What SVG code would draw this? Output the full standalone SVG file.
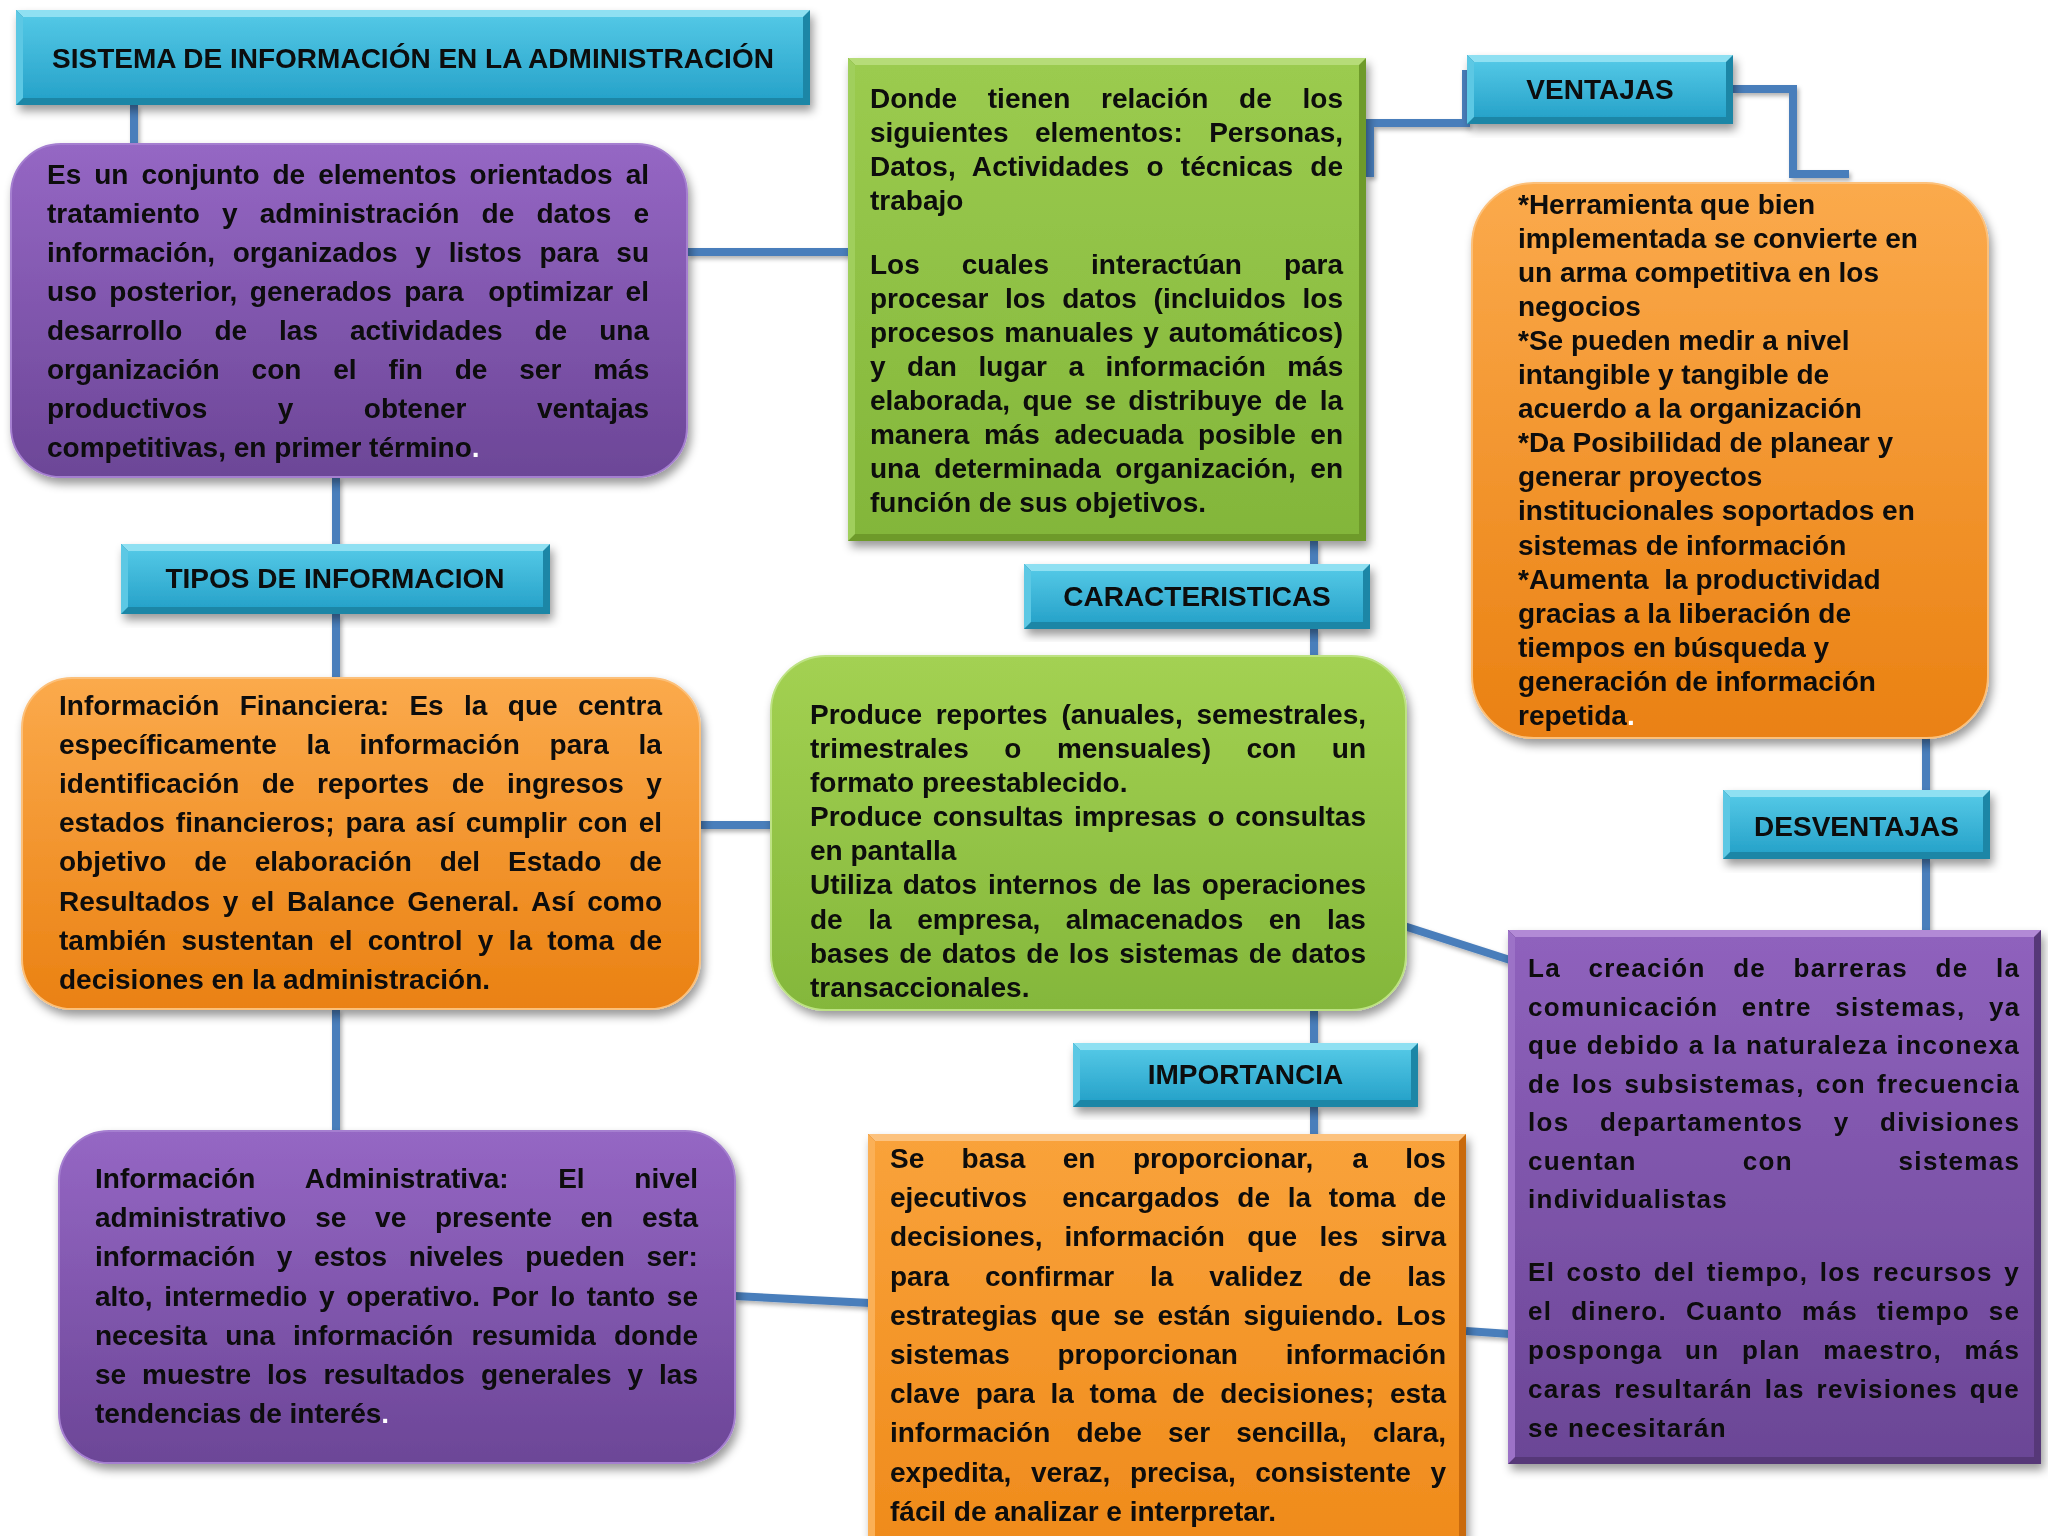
<svg xmlns="http://www.w3.org/2000/svg" width="2048" height="1536" viewBox="0 0 2048 1536">
<defs>
<style>
.t{font-family:"Liberation Sans",Arial,sans-serif;font-weight:bold;font-size:28px;fill:#0a0a0a}
.d{font-family:"Liberation Sans",Arial,sans-serif;font-weight:bold;font-size:26px;letter-spacing:1.3px;fill:#0a0a0a}
.h{font-family:"Liberation Sans",Arial,sans-serif;font-weight:bold;font-size:28px;fill:#0a0a0a;text-anchor:middle}
.w{fill:#ffffff}
.conn{fill:none;stroke:#4a7ebb;stroke-width:8}
</style>
<filter id="sh" x="-10%" y="-10%" width="125%" height="130%">
<feDropShadow dx="3" dy="6" stdDeviation="5" flood-color="#000" flood-opacity="0.4"/>
</filter>
<filter id="shc" x="-10%" y="-10%" width="130%" height="130%">
<feDropShadow dx="2" dy="3" stdDeviation="2" flood-color="#000" flood-opacity="0.3"/>
</filter>
<linearGradient id="gCyan" x1="0" y1="0" x2="0" y2="1"><stop offset="0" stop-color="#52c7e5"/><stop offset="1" stop-color="#27a3ca"/></linearGradient>
<linearGradient id="gPur" x1="0" y1="0" x2="0" y2="1"><stop offset="0" stop-color="#9567c4"/><stop offset="1" stop-color="#6c4697"/></linearGradient>
<linearGradient id="gOr" x1="0" y1="0" x2="0" y2="1"><stop offset="0" stop-color="#fbaa4c"/><stop offset="1" stop-color="#ea8112"/></linearGradient>
<linearGradient id="gGr" x1="0" y1="0" x2="0" y2="1"><stop offset="0" stop-color="#a3d152"/><stop offset="1" stop-color="#84b73b"/></linearGradient>
<linearGradient id="gGr1" x1="0" y1="0" x2="0" y2="1"><stop offset="0" stop-color="#9bcb4f"/><stop offset="1" stop-color="#83b63a"/></linearGradient>
<linearGradient id="gOr3" x1="0" y1="0" x2="0" y2="1"><stop offset="0" stop-color="#f9a23a"/><stop offset="1" stop-color="#ef8a1a"/></linearGradient>
<linearGradient id="gPur3" x1="0" y1="0" x2="0" y2="1"><stop offset="0" stop-color="#8f62bd"/><stop offset="1" stop-color="#6b4696"/></linearGradient>
</defs>
<rect width="2048" height="1536" fill="#ffffff"/>

<g id="connectors" filter="url(#shc)">
<path class="conn" d="M134,105 V146"/>
<path class="conn" d="M687,252 H850"/>
<path class="conn" d="M336,477 V546"/>
<path class="conn" d="M336,614 V680"/>
<path class="conn" d="M700,825 H773"/>
<path class="conn" d="M336,1009 V1133"/>
<path class="conn" d="M735,1296 L870,1303"/>
<path class="conn" d="M1314,541 V566"/>
<path class="conn" d="M1314,629 V658"/>
<path class="conn" d="M1314,1010 V1045"/>
<path class="conn" d="M1314,1107 V1136"/>
<path class="conn" d="M1370,177 V123 H1466 V70"/>
<path class="conn" d="M1733,89 H1793 V174 H1849"/>
<path class="conn" d="M1926,738 V792"/>
<path class="conn" d="M1926,859 V932"/>
<path class="conn" d="M1404,926 L1510,960"/>
<path class="conn" d="M1466,1331 L1510,1334"/>
</g>

<g id="title" filter="url(#sh)">
<rect x="16" y="10" width="794" height="95" fill="#1b86a6"/>
<polygon points="16,10 810,10 803,17 23,17" fill="#8fe0f2"/>
<polygon points="16,10 23,17 23,98 16,105" fill="#5cc8e4"/>
<rect x="23" y="17" width="780" height="81" fill="url(#gCyan)"/>
<text class="h" x="413" y="68">SISTEMA DE INFORMACIÓN EN LA ADMINISTRACIÓN</text>
</g>

<g id="definicion" filter="url(#sh)">
<rect x="11" y="144" width="676" height="333" rx="50" fill="url(#gPur)" stroke="#a57fd0" stroke-width="2"/>
<text class="t" x="47" y="184" word-spacing="5.2" textLength="602" lengthAdjust="spacing">Es un conjunto de elementos orientados al</text>
<text class="t" x="47" y="223" word-spacing="14.3" textLength="602" lengthAdjust="spacing">tratamiento y administración de datos e</text>
<text class="t" x="47" y="262" word-spacing="9.9" textLength="602" lengthAdjust="spacing">información, organizados y listos para su</text>
<text class="t" x="47" y="301" word-spacing="4.6" textLength="602" lengthAdjust="spacing" xml:space="preserve">uso posterior, generados para  optimizar el</text>
<text class="t" y="340"><tspan x="47">desarrollo</tspan><tspan x="214.4">de</tspan><tspan x="279.1">las</tspan><tspan x="350">actividades</tspan><tspan x="534.5">de</tspan><tspan x="599.2">una</tspan></text>
<text class="t" y="379"><tspan x="47">organización</tspan><tspan x="251.6">con</tspan><tspan x="333.3">el</tspan><tspan x="388.6">fin</tspan><tspan x="454.7">de</tspan><tspan x="519.3">ser</tspan><tspan x="593.2">más</tspan></text>
<text class="t" y="418"><tspan x="47">productivos</tspan><tspan x="277.7">y</tspan><tspan x="363.8">obtener</tspan><tspan x="537">ventajas</tspan></text>
<text class="t" x="47" y="457">competitivas, en primer término<tspan class="w">.</tspan></text>
</g>

<g id="tipos" filter="url(#sh)">
<rect x="121" y="544" width="429" height="70" fill="#1b86a6"/>
<polygon points="121,544 550,544 543,551 128,551" fill="#8fe0f2"/>
<polygon points="121,544 128,551 128,607 121,614" fill="#5cc8e4"/>
<rect x="128" y="551" width="415" height="56" fill="url(#gCyan)"/>
<text class="h" x="335" y="588">TIPOS DE INFORMACION</text>
</g>

<g id="financiera" filter="url(#sh)">
<rect x="22" y="678" width="678" height="331" rx="50" fill="url(#gOr)" stroke="#fcc07a" stroke-width="2"/>
<text class="t" x="59" y="715" word-spacing="12.6" textLength="603" lengthAdjust="spacing">Información Financiera: Es la que centra</text>
<text class="t" y="754"><tspan x="59">específicamente</tspan><tspan x="306.4">la</tspan><tspan x="359.6">información</tspan><tspan x="549.6">para</tspan><tspan x="638.5">la</tspan></text>
<text class="t" y="793"><tspan x="59">identificación</tspan><tspan x="261.8">de</tspan><tspan x="317.1">reportes</tspan><tspan x="451.7">de</tspan><tspan x="507">ingresos</tspan><tspan x="646.3">y</tspan></text>
<text class="t" x="59" y="832" word-spacing="3.2" textLength="603" lengthAdjust="spacing">estados financieros; para así cumplir con el</text>
<text class="t" y="871"><tspan x="59">objetivo</tspan><tspan x="194.2">de</tspan><tspan x="254.7">elaboración</tspan><tspan x="439.7">del</tspan><tspan x="508">Estado</tspan><tspan x="629.2">de</tspan></text>
<text class="t" x="59" y="911" word-spacing="4.8" textLength="603" lengthAdjust="spacing">Resultados y el Balance General. Así como</text>
<text class="t" x="59" y="950" word-spacing="7.4" textLength="603" lengthAdjust="spacing">también sustentan el control y la toma de</text>
<text class="t" x="59" y="989">decisiones en la administración.</text>
</g>

<g id="administrativa" filter="url(#sh)">
<rect x="59" y="1131" width="676" height="332" rx="50" fill="url(#gPur)" stroke="#a57fd0" stroke-width="2"/>
<text class="t" y="1188"><tspan x="95">Información</tspan><tspan x="304.8">Administrativa:</tspan><tspan x="558.2">El</tspan><tspan x="634.3">nivel</tspan></text>
<text class="t" y="1227"><tspan x="95">administrativo</tspan><tspan x="315.2">se</tspan><tspan x="375.1">ve</tspan><tspan x="435">presente</tspan><tspan x="580.5">en</tspan><tspan x="642">esta</tspan></text>
<text class="t" y="1266"><tspan x="95">información</tspan><tspan x="276.8">y</tspan><tspan x="314">estos</tspan><tspan x="408.7">niveles</tspan><tspan x="525.2">pueden</tspan><tspan x="646.4">ser:</tspan></text>
<text class="t" x="95" y="1306" word-spacing="3.9" textLength="603" lengthAdjust="spacing">alto, intermedio y operativo. Por lo tanto se</text>
<text class="t" x="95" y="1345" word-spacing="10.3" textLength="603" lengthAdjust="spacing">necesita una información resumida donde</text>
<text class="t" x="95" y="1384" word-spacing="8.2" textLength="603" lengthAdjust="spacing">se muestre los resultados generales y las</text>
<text class="t" x="95" y="1423">tendencias de interés<tspan class="w">.</tspan></text>
</g>

<g id="elementos" filter="url(#sh)">
<rect x="848" y="58" width="518" height="483" fill="#6e9a2c"/>
<polygon points="848,58 1366,58 1359,65 855,65" fill="#b6dc78"/>
<polygon points="848,58 855,65 855,534 848,541" fill="#a0cf5c"/>
<rect x="855" y="65" width="504" height="469" fill="url(#gGr1)"/>
<text class="t" y="108"><tspan x="870">Donde</tspan><tspan x="987.8">tienen</tspan><tspan x="1101">relación</tspan><tspan x="1239.1">de</tspan><tspan x="1302.5">los</tspan></text>
<text class="t" y="142"><tspan x="870">siguientes</tspan><tspan x="1034.9">elementos:</tspan><tspan x="1209.2">Personas,</tspan></text>
<text class="t" x="870" y="176" word-spacing="9.3" textLength="473" lengthAdjust="spacing">Datos, Actividades o técnicas de</text>
<text class="t" x="870" y="210">trabajo</text>
<text class="t" y="274"><tspan x="870">Los</tspan><tspan x="961.8">cuales</tspan><tspan x="1091">interactúan</tspan><tspan x="1283.9">para</tspan></text>
<text class="t" x="870" y="308" word-spacing="8.9" textLength="473" lengthAdjust="spacing">procesar los datos (incluidos los</text>
<text class="t" x="870" y="342" word-spacing="2.1" textLength="473" lengthAdjust="spacing">procesos manuales y automáticos)</text>
<text class="t" y="376"><tspan x="870">y</tspan><tspan x="907.1">dan</tspan><tspan x="978.4">lugar</tspan><tspan x="1068.4">a</tspan><tspan x="1105.5">información</tspan><tspan x="1287.2">más</tspan></text>
<text class="t" x="870" y="410" word-spacing="4.7" textLength="473" lengthAdjust="spacing">elaborada, que se distribuye de la</text>
<text class="t" x="870" y="444" word-spacing="7.0" textLength="473" lengthAdjust="spacing">manera más adecuada posible en</text>
<text class="t" x="870" y="478" word-spacing="6.8" textLength="473" lengthAdjust="spacing">una determinada organización, en</text>
<text class="t" x="870" y="512">función de sus objetivos.</text>
</g>

<g id="caracteristicas" filter="url(#sh)">
<rect x="1024" y="564" width="346" height="65" fill="#1b86a6"/>
<polygon points="1024,564 1370,564 1363,571 1031,571" fill="#8fe0f2"/>
<polygon points="1024,564 1031,571 1031,622 1024,629" fill="#5cc8e4"/>
<rect x="1031" y="571" width="332" height="51" fill="url(#gCyan)"/>
<text class="h" x="1197" y="606">CARACTERISTICAS</text>
</g>

<g id="caracteristicas-texto" filter="url(#sh)">
<rect x="771" y="656" width="635" height="354" rx="55" fill="url(#gGr)" stroke="#bde283" stroke-width="2"/>
<text class="t" x="810" y="724" word-spacing="6" textLength="556" lengthAdjust="spacing">Produce reportes (anuales, semestrales,</text>
<text class="t" y="758"><tspan x="810">trimestrales</tspan><tspan x="1004.3">o</tspan><tspan x="1056.9">mensuales)</tspan><tspan x="1246.5">con</tspan><tspan x="1331.8">un</tspan></text>
<text class="t" x="810" y="792">formato preestablecido.</text>
<text class="t" x="810" y="826" word-spacing="2.9" textLength="556" lengthAdjust="spacing">Produce consultas impresas o consultas</text>
<text class="t" x="810" y="860">en pantalla</text>
<text class="t" x="810" y="894" word-spacing="3.2" textLength="556" lengthAdjust="spacing">Utiliza datos internos de las operaciones</text>
<text class="t" y="929"><tspan x="810">de</tspan><tspan x="868.3">la</tspan><tspan x="917.3">empresa,</tspan><tspan x="1065.8">almacenados</tspan><tspan x="1268.7">en</tspan><tspan x="1327">las</tspan></text>
<text class="t" x="810" y="963" word-spacing="2.1" textLength="556" lengthAdjust="spacing">bases de datos de los sistemas de datos</text>
<text class="t" x="810" y="997">transaccionales.</text>
</g>

<g id="importancia" filter="url(#sh)">
<rect x="1073" y="1043" width="345" height="64" fill="#1b86a6"/>
<polygon points="1073,1043 1418,1043 1411,1050 1080,1050" fill="#8fe0f2"/>
<polygon points="1073,1043 1080,1050 1080,1100 1073,1107" fill="#5cc8e4"/>
<rect x="1080" y="1050" width="331" height="50" fill="url(#gCyan)"/>
<text class="h" x="1245.5" y="1084">IMPORTANCIA</text>
</g>

<g id="importancia-texto" filter="url(#sh)">
<rect x="868" y="1134" width="598" height="430" fill="#c96a0c"/>
<polygon points="868,1134 1466,1134 1459,1141 875,1141" fill="#fcc27e"/>
<polygon points="868,1134 875,1141 875,1564 868,1564" fill="#fbb056"/>
<rect x="875" y="1141" width="584" height="420" fill="url(#gOr3)"/>
<text class="t" y="1168"><tspan x="890">Se</tspan><tspan x="961.6">basa</tspan><tspan x="1062.8">en</tspan><tspan x="1132.9">proporcionar,</tspan><tspan x="1352.3">a</tspan><tspan x="1405.3">los</tspan></text>
<text class="t" x="890" y="1207" word-spacing="9.9" textLength="556" lengthAdjust="spacing" xml:space="preserve">ejecutivos  encargados de la toma de</text>
<text class="t" y="1246"><tspan x="890">decisiones,</tspan><tspan x="1064.6">información</tspan><tspan x="1247.2">que</tspan><tspan x="1319.4">les</tspan><tspan x="1380.7">sirva</tspan></text>
<text class="t" y="1286"><tspan x="890">para</tspan><tspan x="985">confirmar</tspan><tspan x="1150">la</tspan><tspan x="1209.3">validez</tspan><tspan x="1338.6">de</tspan><tspan x="1407.2">las</tspan></text>
<text class="t" x="890" y="1325" word-spacing="5.4" textLength="556" lengthAdjust="spacing">estrategias que se están siguiendo. Los</text>
<text class="t" y="1364"><tspan x="890">sistemas</tspan><tspan x="1057.5">proporcionan</tspan><tspan x="1285.8">información</tspan></text>
<text class="t" x="890" y="1403" word-spacing="7.9" textLength="556" lengthAdjust="spacing">clave para la toma de decisiones; esta</text>
<text class="t" y="1442"><tspan x="890">información</tspan><tspan x="1076.4">debe</tspan><tspan x="1168">ser</tspan><tspan x="1236.2">sencilla,</tspan><tspan x="1372.9">clara,</tspan></text>
<text class="t" x="890" y="1482" word-spacing="11.8" textLength="556" lengthAdjust="spacing">expedita, veraz, precisa, consistente y</text>
<text class="t" x="890" y="1521">fácil de analizar e interpretar.</text>
</g>

<g id="ventajas" filter="url(#sh)">
<rect x="1467" y="55" width="266" height="69" fill="#1b86a6"/>
<polygon points="1467,55 1733,55 1726,62 1474,62" fill="#8fe0f2"/>
<polygon points="1467,55 1474,62 1474,117 1467,124" fill="#5cc8e4"/>
<rect x="1474" y="62" width="252" height="55" fill="url(#gCyan)"/>
<text class="h" x="1600" y="99">VENTAJAS</text>
</g>

<g id="ventajas-texto" filter="url(#sh)">
<rect x="1472" y="183" width="516" height="555" rx="62" fill="url(#gOr)" stroke="#fcc07a" stroke-width="2"/>
<text class="t" x="1518" y="214">*Herramienta que bien</text>
<text class="t" x="1518" y="248">implementada se convierte en</text>
<text class="t" x="1518" y="282">un arma competitiva en los</text>
<text class="t" x="1518" y="316">negocios</text>
<text class="t" x="1518" y="350">*Se pueden medir a nivel</text>
<text class="t" x="1518" y="384">intangible y tangible de</text>
<text class="t" x="1518" y="418">acuerdo a la organización</text>
<text class="t" x="1518" y="452">*Da Posibilidad de planear y</text>
<text class="t" x="1518" y="486">generar proyectos</text>
<text class="t" x="1518" y="520">institucionales soportados en</text>
<text class="t" x="1518" y="555">sistemas de información</text>
<text class="t" x="1518" y="589" xml:space="preserve">*Aumenta  la productividad</text>
<text class="t" x="1518" y="623">gracias a la liberación de</text>
<text class="t" x="1518" y="657">tiempos en búsqueda y</text>
<text class="t" x="1518" y="691">generación de información</text>
<text class="t" x="1518" y="725">repetida<tspan class="w">.</tspan></text>
</g>

<g id="desventajas" filter="url(#sh)">
<rect x="1723" y="790" width="267" height="69" fill="#1b86a6"/>
<polygon points="1723,790 1990,790 1983,797 1730,797" fill="#8fe0f2"/>
<polygon points="1723,790 1730,797 1730,852 1723,859" fill="#5cc8e4"/>
<rect x="1730" y="797" width="253" height="55" fill="url(#gCyan)"/>
<text class="h" x="1856.5" y="836">DESVENTAJAS</text>
</g>

<g id="desventajas-texto" filter="url(#sh)">
<rect x="1508" y="930" width="533" height="534" fill="#573878"/>
<polygon points="1508,930 2041,930 2034,937 1515,937" fill="#b28ad6"/>
<polygon points="1508,930 1515,937 1515,1457 1508,1464" fill="#9c72c7"/>
<rect x="1515" y="937" width="519" height="520" fill="url(#gPur3)"/>
<text class="d" y="977"><tspan x="1528">La</tspan><tspan x="1588.4">creación</tspan><tspan x="1733.2">de</tspan><tspan x="1793.6">barreras</tspan><tspan x="1935.6">de</tspan><tspan x="1996">la</tspan></text>
<text class="d" y="1016"><tspan x="1528">comunicación</tspan><tspan x="1741.8">entre</tspan><tspan x="1835.3">sistemas,</tspan><tspan x="1989">ya</tspan></text>
<text class="d" x="1528" y="1054" textLength="492" lengthAdjust="spacing">que debido a la naturaleza inconexa</text>
<text class="d" x="1528" y="1093" word-spacing="2.5" textLength="492" lengthAdjust="spacing">de los subsistemas, con frecuencia</text>
<text class="d" y="1131"><tspan x="1528">los</tspan><tspan x="1600">departamentos</tspan><tspan x="1833.8">y</tspan><tspan x="1880">divisiones</tspan></text>
<text class="d" y="1170"><tspan x="1528">cuentan</tspan><tspan x="1742.7">con</tspan><tspan x="1898.6">sistemas</tspan></text>
<text class="d" x="1528" y="1208">individualistas</text>
<text class="d" x="1528" y="1281" word-spacing="2.9" textLength="492" lengthAdjust="spacing">El costo del tiempo, los recursos y</text>
<text class="d" y="1320"><tspan x="1528">el</tspan><tspan x="1571.2">dinero.</tspan><tspan x="1685.9">Cuanto</tspan><tspan x="1802.1">más</tspan><tspan x="1876.9">tiempo</tspan><tspan x="1988.8">se</tspan></text>
<text class="d" y="1359"><tspan x="1528">posponga</tspan><tspan x="1685.1">un</tspan><tspan x="1742">plan</tspan><tspan x="1823.2">maestro,</tspan><tspan x="1964.4">más</tspan></text>
<text class="d" x="1528" y="1398" word-spacing="3.2" textLength="492" lengthAdjust="spacing">caras resultarán las revisiones que</text>
<text class="d" x="1528" y="1437">se necesitarán</text>
</g>
</svg>
